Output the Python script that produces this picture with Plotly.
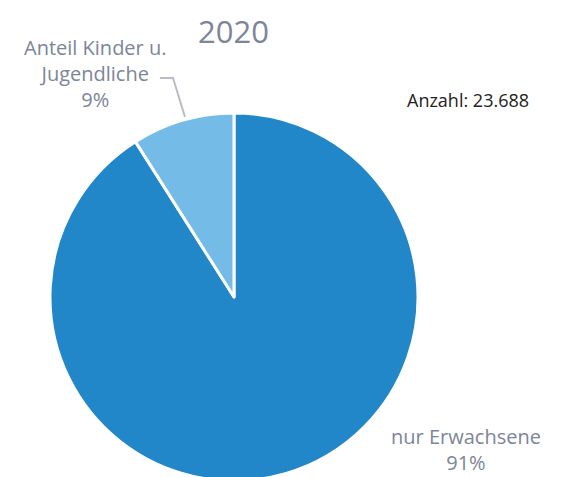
import plotly.graph_objects as go

# Daten
jahr = "2020"
kategorien = ["nur Erwachsene", "Anteil Kinder u. Jugendliche"]
anteile = [91, 9]
anzahl = "23.688"
farben = ["#2287c8", "#74bbe8"]

W, H = 562, 477
OFF = 8  # body-Rand im Browser
grau = "#7d8599"
schrift = "Open Sans"


def px(x):
    return (x - OFF) / W


def py(y):
    return 1 - (y - OFF) / H


fig = go.Figure()
fig.add_trace(go.Pie(
    labels=kategorien,
    values=anteile,
    sort=False,
    direction="clockwise",
    rotation=0,
    marker=dict(colors=farben, line=dict(color="white", width=3)),
    textinfo="none",
    hoverinfo="label+percent",
    showlegend=False,
    domain=dict(x=[px(50), px(418)], y=[py(481), py(113)]),
))

# Beschriftungen der Segmente
fig.add_annotation(x=px(466), y=py(449), xref="paper", yref="paper",
                   text=f"{kategorien[0]}<br>{anteile[0]}%", showarrow=False,
                   xanchor="center", yanchor="middle", align="center",
                   font=dict(family=schrift, size=20, color=grau))
fig.add_annotation(x=px(95), y=py(74), xref="paper", yref="paper",
                   text="Anteil Kinder u.<br>Jugendliche<br>" + f"{anteile[1]}%",
                   showarrow=False, xanchor="center", yanchor="middle", align="center",
                   font=dict(family=schrift, size=20, color=grau))
# Verbindungslinie
fig.add_shape(type="path", xref="paper", yref="paper",
              path=f"M {px(160)} {py(78)} L {px(173)} {py(78)} L {px(185)} {py(117)}",
              line=dict(color="#b8bcc8", width=2))

fig.add_annotation(x=px(405), y=py(100), xref="paper", yref="paper",
                   text=f"Anzahl: {anzahl}", showarrow=False,
                   xanchor="left", yanchor="middle",
                   font=dict(family=schrift, size=18, color="#222222"))

# Titel als Annotation, direkt am oberen Rand
fig.add_annotation(x=px(233), y=py(8), xref="paper", yref="paper",
                   text=jahr, showarrow=False, xanchor="center", yanchor="top",
                   font=dict(family=schrift, size=31, color=grau))

fig.update_layout(
    width=W, height=H,
    margin=dict(l=0, r=0, t=0, b=0),
    paper_bgcolor="white",
)

fig.write_html("out.html")
